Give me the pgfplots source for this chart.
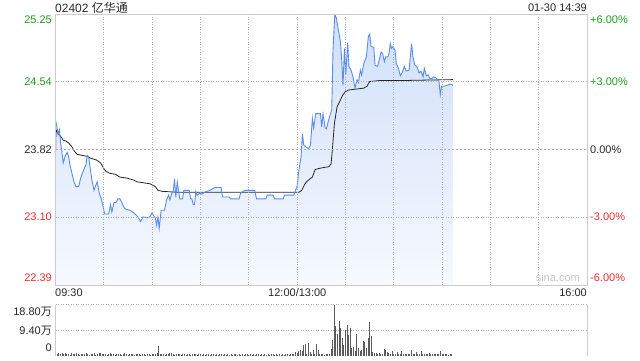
\documentclass[border=0pt]{standalone}
\usepackage{pgfplots}
\usepackage{pgfplotstable}
\pgfplotsset{compat=1.18}
\usepackage{fontspec}
\setmainfont{Liberation Sans}
\newfontfamily\cjk{Noto Sans CJK SC}
\definecolor{upg}{RGB}{26,160,26}
\definecolor{dnr}{RGB}{235,45,45}
\definecolor{gridc}{RGB}{175,175,175}
\definecolor{framec}{RGB}{204,204,204}
\definecolor{linec}{RGB}{88,140,236}
\definecolor{filltop}{RGB}{208,223,248}
\definecolor{fillbot}{RGB}{246,249,255}
\definecolor{volc}{RGB}{90,90,90}
\definecolor{txt}{RGB}{40,40,40}
\newcommand\lab{\fontsize{11}{13}\selectfont}

\pgfplotstableread{
m p
0 24.13
0.7 24.08
1.6 23.98
2.4 24.03
3.2 23.89
4.0 23.79
4.8 23.68
6.1 23.76
7.3 23.79
8.2 23.74
9.0 23.66
10.2 23.57
11.5 23.48
12.7 23.43
14.4 23.43
15.6 23.52
16.9 23.58
18.1 23.63
18.9 23.66
19.7 23.76
20.6 23.74
21.4 23.64
22.6 23.50
23.9 23.39
24.7 23.43
25.9 23.48
27.2 23.36
28.4 23.30
29.7 23.21
30.5 23.14
33.0 23.14
34.2 23.24
35.0 23.16
36.3 23.26
37.5 23.26
38.8 23.30
40.0 23.30
41.2 23.26
42.5 23.21
43.7 23.19
46.2 23.18
48.7 23.15
51.2 23.11
52.8 23.06
54.5 23.11
56.6 23.10
58.6 23.11
59.9 23.15
61.9 23.10
62.8 23.02
63.6 23.11
64.4 22.99
65.6 23.18
67.7 23.18
69.0 23.29
70.2 23.34
71.0 23.29
72.3 23.36
73.1 23.38
73.9 23.51
74.7 23.32
75.6 23.48
76.4 23.38
77.2 23.30
78.9 23.30
79.7 23.39
83.0 23.39
83.9 23.30
84.7 23.30
85.5 23.24
86.3 23.24
87.2 23.38
88.0 23.34
89.6 23.36
90.9 23.35
92.5 23.37
94.2 23.38
95.8 23.39
97.9 23.41
99.1 23.42
102.8 23.42
103.7 23.32
107.8 23.32
108.7 23.30
114.0 23.30
114.9 23.36
117.5 23.39
123.7 23.39
124.8 23.30
130.6 23.30
131.4 23.34
135.1 23.34
136.0 23.30
141.3 23.30
142.2 23.34
147.9 23.34
150.0 23.43
151.2 23.61
152.5 23.75
153.3 23.99
154.1 23.87
155.4 23.85
157.1 23.83
158.3 23.87
159.5 24.15
160.3 24.05
161.6 24.20
164.5 24.20
165.3 24.06
166.1 24.20
167.4 24.05
168.2 24.04
169.5 24.13
170.7 24.20
171.5 24.24
172.3 24.87
173.4 25.25
174.4 25.21
175.7 25.08
176.9 24.96
177.7 24.77
178.5 24.50
179.4 24.89
180.2 24.61
181.4 24.95
182.2 24.70
183.5 24.66
184.7 24.59
186.0 24.47
187.2 24.56
188.1 24.53
189.3 24.66
190.1 24.61
191.4 24.73
193.0 24.80
194.3 25.02
195.1 25.04
195.9 24.91
197.6 24.90
198.4 24.71
200.0 24.70
201.3 24.79
202.1 24.85
203.0 24.84
204.2 24.75
205.0 24.80
206.3 24.80
207.1 24.84
207.9 24.94
208.7 24.89
209.5 24.91
210.8 24.87
211.6 24.73
212.9 24.68
214.1 24.60
215.4 24.64
216.6 24.70
217.8 24.65
219.5 24.66
220.3 24.80
221.1 24.94
221.9 24.80
223.2 24.71
224.4 24.70
225.7 24.63
226.9 24.65
228.2 24.59
229.0 24.68
230.3 24.60
231.5 24.61
232.3 24.57
233.6 24.57
234.8 24.59
236.0 24.58
237.3 24.56
238.1 24.54
238.9 24.40
239.7 24.49
241.0 24.49
243.0 24.50
244.7 24.51
245.9 24.51
246.8 24.50
}\price

\pgfplotstableread{
m p
0 23.76
0.3 24.03
1.6 23.99
3.2 23.96
4.8 23.92
6.5 23.91
8.2 23.89
10.2 23.85
11.9 23.80
13.5 23.77
16.4 23.76
19.4 23.75
21.8 23.73
25.6 23.71
28.0 23.68
29.7 23.63
31.3 23.59
33.8 23.57
37.1 23.56
40.0 23.53
44.2 23.52
48.3 23.50
50.7 23.48
54.5 23.47
58.6 23.46
61.9 23.43
63.6 23.39
66.1 23.38
75.2 23.37
145.5 23.37
151.2 23.37
152.9 23.39
154.6 23.45
155.8 23.48
157.9 23.51
159.5 23.53
161.2 23.61
163.3 23.62
166.1 23.63
169.8 23.64
171.1 23.67
171.9 23.82
173.2 24.10
174.8 24.27
176.5 24.33
178.1 24.39
179.8 24.43
181.9 24.45
186.8 24.46
191.4 24.47
193.4 24.49
195.1 24.54
201.3 24.55
213.7 24.55
246.8 24.56
}\avg

\pgfplotstableread{
m v
0 1.4
1 0.6
2 0.9
3 0.5
4 0.8
5 0.4
6 1.0
7 0.5
8 0.7
9 0.3
10 0.9
11 0.6
12 0.4
13 0.8
14 0.5
15 0.3
16 0.7
17 0.4
18 0.6
19 0.9
20 0.5
21 0.3
22 0.6
23 0.4
24 0.8
25 0.3
26 0.5
27 0.9
28 1.0
29 0.6
30 0.4
31 0.7
32 0.3
33 0.5
34 0.8
35 0.4
36 0.6
37 0.3
38 0.5
39 0.4
40 0.7
41 0.3
42 0.5
43 0.9
44 0.4
45 0.3
46 0.6
47 0.4
48 0.5
49 0.3
50 0.7
51 0.4
52 0.6
53 0.3
54 0.5
55 0.4
56 0.3
57 0.6
58 0.5
59 0.3
60 0.4
61 0.6
62 0.5
63 0.8
64 3.6
65 0.7
66 0.4
67 0.6
68 0.3
69 0.5
70 0.4
71 0.8
72 1.0
73 0.5
74 0.3
75 0.6
76 0.4
77 0.5
78 0.3
79 0.4
80 0.6
81 0.3
82 0.5
83 0.4
84 0.3
85 0.5
86 0.4
87 0.6
88 0.3
89 0.4
90 0.5
91 0.3
92 0.4
93 0.3
94 0.5
95 0.4
96 0.3
97 0.4
98 0.5
99 0.3
100 0.4
101 0.3
102 0.5
103 0.4
104 0.3
105 0.4
106 0.3
107 0.5
108 0.3
109 0.4
110 0.3
111 0.4
112 0.5
113 0.3
114 0.4
115 0.3
116 0.4
117 0.3
118 0.5
119 0.4
120 0.3
121 0.4
122 0.3
123 0.4
124 0.3
125 0.4
126 0.5
127 0.3
128 0.4
129 0.3
130 0.4
131 0.3
132 0.4
133 0.3
134 0.5
135 0.4
136 0.3
137 0.4
138 0.3
139 0.4
140 0.3
141 0.4
142 0.3
143 0.4
144 0.5
145 0.3
146 0.4
147 0.5
148 0.6
149 1.2
150 0.8
151 1.6
152 2.0
153 1.6
154 3.8
155 4.1
156 0.5
157 4.7
158 1.4
159 0.4
160 2.0
161 0.4
162 4.4
163 2.0
164 0.7
165 0.4
166 0.5
167 0.3
168 0.4
169 0.5
170 0.6
171 2.3
172 5.6
173 18.8
174 10.8
175 8.1
176 12.8
177 10.0
178 6.3
179 3.8
180 9.3
181 11.2
182 7.5
183 10.0
184 2.6
185 3.2
186 1.6
187 8.1
188 2.6
189 1.6
190 2.0
191 5.3
192 4.8
193 2.6
194 6.5
195 12.4
196 7.3
197 1.4
198 1.0
199 1.1
200 0.6
201 1.0
202 0.5
203 0.5
204 2.3
205 2.0
206 1.4
207 0.8
208 0.6
209 1.6
210 0.7
211 0.5
212 1.4
213 0.6
214 0.5
215 1.6
216 0.7
217 0.5
218 0.6
219 0.4
220 0.7
221 2.0
222 0.6
223 0.5
224 1.4
225 0.6
226 0.5
227 1.6
228 0.6
229 0.5
230 0.7
231 0.4
232 1.1
233 0.5
234 0.6
235 0.4
236 0.5
237 0.6
238 0.4
239 1.6
240 0.5
241 0.6
242 0.4
243 0.5
244 0.3
245 0.4
246 0.5
}\vol

\begin{document}
\begin{tikzpicture}[x=1pt,y=1pt]
\useasboundingbox (0,0) rectangle (640,360);
% main price axis
\begin{axis}[
  at={(55.5pt,75pt)}, anchor=south west,
  scale only axis, width=531.5pt, height=270.7pt,
  xmin=0, xmax=330, ymin=22.39, ymax=25.25,
  axis line style={draw=framec, line width=0.9pt},
  xtick={30,60,...,300}, xticklabels={},
  ytick={23.10,24.54}, yticklabels={},
  extra y ticks={23.82}, extra y tick labels={},
  extra y tick style={grid=major, major grid style={draw=gridc, dash pattern=on 2.5pt off 1.5pt, line width=0.8pt}},
  major tick length=0pt,
  grid=major, major grid style={draw=gridc, dash pattern=on 1pt off 1.5pt, line width=0.8pt},
  axis on top,
]
\addplot[draw=none, top color=filltop, bottom color=fillbot] table[x=m,y=p]{\price} -- (axis cs:246.8,22.39) -- (axis cs:0,22.39) -- cycle;
\addplot[black!85, line width=0.8pt] table[x=m,y=p]{\avg};
\addplot[linec, line width=0.9pt] table[x=m,y=p]{\price};
\end{axis}
% volume axis
\begin{axis}[
  at={(55.5pt,4.5pt)}, anchor=south west,
  scale only axis, width=531.5pt, height=51pt,
  xmin=0, xmax=330, ymin=0, ymax=18.8,
  axis line style={draw=none},
  xtick=\empty, ytick={9.4,18.8}, yticklabels={},
  major tick length=0pt,
  ymajorgrids, major grid style={draw=gridc, dash pattern=on 1pt off 1.5pt, line width=0.8pt},
  clip=false,
]
\addplot[ycomb, volc, line width=0.8pt, mark=none] table[x=m,y=v]{\vol};
\draw[framec, line width=0.9pt] (rel axis cs:0,0) -- (rel axis cs:0,1);
\draw[framec, line width=0.9pt] (rel axis cs:1,0) -- (rel axis cs:1,1);
\end{axis}
% title row
\node[anchor=west, inner sep=0pt, txt] at (55,352.5) {\fontsize{12}{14}\selectfont 02402 {\cjk 亿华通}};
\node[anchor=east, inner sep=0pt, txt] at (587,352.5) {\lab 01-30 14:39};
% left price labels
\node[anchor=east, inner sep=0pt, upg] at (52,340) {\lab 25.25};
\node[anchor=east, inner sep=0pt, upg] at (52,278) {\lab 24.54};
\node[anchor=east, inner sep=0pt, txt] at (52,210.3) {\lab 23.82};
\node[anchor=east, inner sep=0pt, dnr] at (52,143) {\lab 23.10};
\node[anchor=east, inner sep=0pt, dnr] at (52,82) {\lab 22.39};
% right percent labels
\node[anchor=west, inner sep=0pt, upg] at (590,340) {\lab +6.00\%};
\node[anchor=west, inner sep=0pt, upg] at (590,278) {\lab +3.00\%};
\node[anchor=west, inner sep=0pt, txt] at (590,210.3) {\lab 0.00\%};
\node[anchor=west, inner sep=0pt, dnr] at (590,143) {\lab -3.00\%};
\node[anchor=west, inner sep=0pt, dnr] at (590,82) {\lab -6.00\%};
% time labels
\node[anchor=west, inner sep=0pt, txt] at (55,67) {\lab 09:30};
\node[anchor=center, inner sep=0pt, txt] at (297.3,67) {\lab 12:00/13:00};
\node[anchor=east, inner sep=0pt, txt] at (587,67) {\lab 16:00};
% watermark
\node[anchor=east, inner sep=0pt, black!22] at (580,82) {\lab sina.com};
% volume labels
\node[anchor=east, inner sep=0pt, txt] at (52,48) {\lab 18.80{\cjk 万}};
\node[anchor=east, inner sep=0pt, txt] at (52,29) {\lab 9.40{\cjk 万}};
\node[anchor=east, inner sep=0pt, txt] at (52,12) {\lab 0};
\end{tikzpicture}
\end{document}
